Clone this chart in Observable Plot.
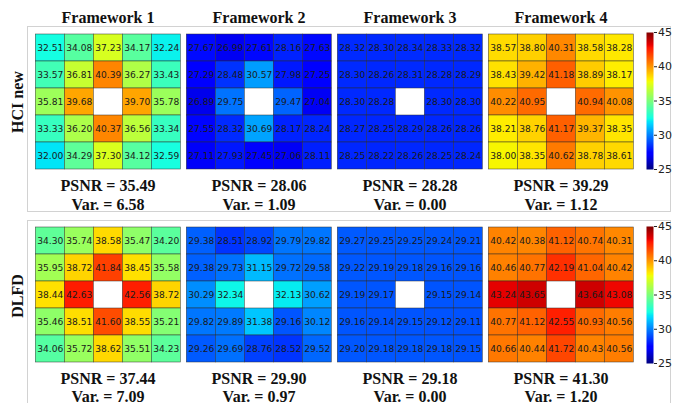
<!DOCTYPE html>
<html>
<head>
<meta charset="utf-8">
<script src="https://cdn.jsdelivr.net/npm/d3@7"></script>
<script src="https://cdn.jsdelivr.net/npm/@observablehq/plot@0.6"></script>
<style>
  html, body { margin: 0; padding: 0; background: white; }
  #wrap { position: relative; width: 680px; height: 403px; overflow: hidden; background: white; }
  .frame { position: absolute; box-sizing: border-box; border: 1.6px solid #d2d2d2; }
  .rowlab { position: absolute; font-family: "Liberation Serif", "Times New Roman", serif; font-weight: bold; font-size: 16px;
            transform: translate(-50%, -50%) rotate(-90deg); white-space: nowrap; color: #111; }
  .cbar { position: absolute; }
  .serif-t text { font-family: "Liberation Serif", "Times New Roman", serif !important; font-weight: bold; }
  .num-t text { font-family: "DejaVu Sans", sans-serif !important; font-weight: normal; }
</style>
</head>
<body>
<div id="wrap">
  <div class="frame" style="left:27px;top:26px;width:644px;height:186px;"></div>
  <div class="frame" style="left:27px;top:219.5px;width:644px;height:192px;"></div>
  <div id="main" style="position:absolute;left:0;top:0;"></div>
  <div class="rowlab" style="left:18px;top:102px;">HCI new</div>
  <div class="rowlab" style="left:18px;top:296px;">DLFD</div>
  <div id="cb1" class="cbar" style="left:645.5px;top:26px;"></div>
  <div id="cb2" class="cbar" style="left:645.5px;top:220px;"></div>
</div>
<script>
const frameworks = ["Framework 1", "Framework 2", "Framework 3", "Framework 4"];
const datasets = ["HCI new", "DLFD"];

const hciF1 = [
  [32.51, 34.08, 37.23, 34.17, 32.24],
  [33.57, 36.81, 40.39, 36.27, 33.43],
  [35.81, 39.68, null, 39.70, 35.78],
  [33.33, 36.20, 40.37, 36.56, 33.34],
  [32.00, 34.29, 37.30, 34.12, 32.59]
];
const hciF2 = [
  [27.67, 26.99, 27.61, 28.16, 27.63],
  [27.29, 28.48, 30.57, 27.98, 27.25],
  [26.89, 29.75, null, 29.47, 27.04],
  [27.55, 28.32, 30.69, 28.17, 28.24],
  [27.11, 27.93, 27.45, 27.06, 28.11]
];
const hciF3 = [
  [28.32, 28.30, 28.34, 28.33, 28.32],
  [28.30, 28.26, 28.31, 28.28, 28.29],
  [28.30, 28.28, null, 28.30, 28.30],
  [28.27, 28.25, 28.29, 28.26, 28.26],
  [28.25, 28.22, 28.26, 28.25, 28.24]
];
const hciF4 = [
  [38.57, 38.80, 40.31, 38.58, 38.28],
  [38.43, 39.42, 41.18, 38.89, 38.17],
  [40.22, 40.95, null, 40.94, 40.08],
  [38.21, 38.76, 41.17, 39.37, 38.35],
  [38.00, 38.35, 40.62, 38.78, 38.61]
];
const dlfdF1 = [
  [34.30, 35.74, 38.58, 35.47, 34.20],
  [35.95, 38.72, 41.84, 38.45, 35.58],
  [38.44, 42.63, null, 42.56, 38.72],
  [35.46, 38.51, 41.60, 38.55, 35.21],
  [34.06, 35.72, 38.62, 35.51, 34.23]
];
const dlfdF2 = [
  [29.38, 28.51, 28.92, 29.79, 29.82],
  [29.38, 29.73, 31.15, 29.72, 29.58],
  [30.29, 32.34, null, 32.13, 30.62],
  [29.82, 29.89, 31.38, 29.16, 30.12],
  [29.26, 29.69, 28.76, 28.52, 29.52]
];
const dlfdF3 = [
  [29.27, 29.25, 29.25, 29.24, 29.21],
  [29.22, 29.19, 29.18, 29.16, 29.16],
  [29.19, 29.17, null, 29.15, 29.14],
  [29.16, 29.14, 29.15, 29.12, 29.11],
  [29.20, 29.18, 29.18, 29.18, 29.15]
];
const dlfdF4 = [
  [40.42, 40.38, 41.12, 40.74, 40.31],
  [40.46, 40.77, 42.19, 41.04, 40.42],
  [43.24, 43.65, null, 43.64, 43.08],
  [40.77, 41.12, 42.55, 40.93, 40.56],
  [40.66, 40.44, 41.72, 40.43, 40.56]
];

const psnrHCI = [35.49, 28.06, 28.28, 39.29];
const varHCI  = [6.58, 1.09, 0.00, 1.12];
const psnrDLFD = [37.44, 29.90, 29.18, 41.30];
const varDLFD  = [7.09, 0.97, 0.00, 1.20];
const colorTicks = [25, 30, 35, 40, 45];

// matplotlib "jet" colormap definition
function piece(pts, t) {
  for (let i = 1; i < pts.length; i++) {
    if (t <= pts[i][0]) {
      const [x0, y0] = pts[i - 1], [x1, y1] = pts[i];
      return y0 + (y1 - y0) * (t - x0) / (x1 - x0);
    }
  }
  return pts[pts.length - 1][1];
}
function jet(t) {
  t = Math.max(0, Math.min(1, t));
  const r = piece([[0,0],[0.35,0],[0.66,1],[0.89,1],[1,0.5]], t);
  const g = piece([[0,0],[0.125,0],[0.375,1],[0.64,1],[0.91,0],[1,0]], t);
  const b = piece([[0,0.5],[0.11,1],[0.34,1],[0.65,0],[1,0]], t);
  return `rgb(${Math.round(r*255)},${Math.round(g*255)},${Math.round(b*255)})`;
}
const colorScale = {type: "linear", domain: [25, 45], interpolate: jet};

const grids = [[hciF1, hciF2, hciF3, hciF4], [dlfdF1, dlfdF2, dlfdF3, dlfdF4]];
const cells = [];
grids.forEach((row, di) => row.forEach((g, fi) => g.forEach((r, ri) => r.forEach((v, ci) => {
  if (v != null) cells.push({dataset: datasets[di], framework: frameworks[fi], row: ri, col: ci, value: v});
}))));

const stats = [];
frameworks.forEach((f, i) => {
  stats.push({dataset: datasets[0], framework: f, psnr: psnrHCI[i], v: varHCI[i]});
  stats.push({dataset: datasets[1], framework: f, psnr: psnrDLFD[i], v: varDLFD[i]});
});
const statsHCI = stats.filter(d => d.dataset === datasets[0]);
const statsDLFD = stats.filter(d => d.dataset === datasets[1]);

const serif = {fontFamily: "Liberation Serif", fontWeight: "bold", fontSize: 16, fill: "#111", className: "serif-t"};

const main = Plot.plot({
  width: 680, height: 403,
  marginLeft: 31.7, marginRight: 44.3, marginTop: 32, marginBottom: 39.7,
  style: {background: "transparent"},
  fx: {domain: frameworks, padding: 0.026, axis: null},
  fy: {domain: datasets, padding: 0.29, axis: null},
  x: {type: "band", domain: [0, 1, 2, 3, 4], padding: 0, axis: null},
  y: {type: "band", domain: [0, 1, 2, 3, 4], padding: 0, axis: null},
  color: colorScale,
  marks: [
    Plot.cell(cells, {x: "col", y: "row", fx: "framework", fy: "dataset", fill: "value",
                      stroke: "#2a2a2a", strokeWidth: 0.6, strokeOpacity: 0.8}),
    Plot.text(cells, {x: "col", y: "row", fx: "framework", fy: "dataset",
                      text: d => d.value.toFixed(2), fontFamily: "DejaVu Sans", fontSize: 9.1,
                      fill: "#1a1a1a", className: "num-t"}),
    Plot.text(frameworks, {fx: d => d, fy: () => datasets[0], text: d => d,
                      frameAnchor: "top", lineAnchor: "bottom", dy: -11, ...serif}),
    Plot.text(statsHCI, {fx: "framework", fy: "dataset", text: d => `PSNR = ${d.psnr.toFixed(2)}`,
                      frameAnchor: "bottom", lineAnchor: "bottom", dy: 20, ...serif}),
    Plot.text(statsHCI, {fx: "framework", fy: "dataset", text: d => `Var. = ${d.v.toFixed(2)}`,
                      frameAnchor: "bottom", lineAnchor: "bottom", dy: 39.5, ...serif}),
    Plot.text(statsDLFD, {fx: "framework", fy: "dataset", text: d => `PSNR = ${d.psnr.toFixed(2)}`,
                      frameAnchor: "bottom", lineAnchor: "bottom", dy: 20.5, ...serif}),
    Plot.text(statsDLFD, {fx: "framework", fy: "dataset", text: d => `Var. = ${d.v.toFixed(2)}`,
                      frameAnchor: "bottom", lineAnchor: "bottom", dy: 38, ...serif})
  ]
});
document.getElementById("main").appendChild(main);

function colorbar() {
  return Plot.plot({
    width: 34, height: 149,
    marginLeft: 0, marginRight: 27, marginTop: 6, marginBottom: 6,
    style: {background: "transparent", fontFamily: "DejaVu Sans", fontSize: "11px", color: "#222"},
    x: {domain: [0, 1], axis: null},
    y: {domain: [25, 45], axis: "right", ticks: colorTicks, tickSize: 3, tickPadding: 1.5, label: null},
    color: colorScale,
    marks: [
      Plot.raster({x1: 0, x2: 1, y1: 25, y2: 45, width: 1, height: 256, fill: (x, y) => y})
    ]
  });
}
document.getElementById("cb1").appendChild(colorbar());
document.getElementById("cb2").appendChild(colorbar());
</script>
</body>
</html>
